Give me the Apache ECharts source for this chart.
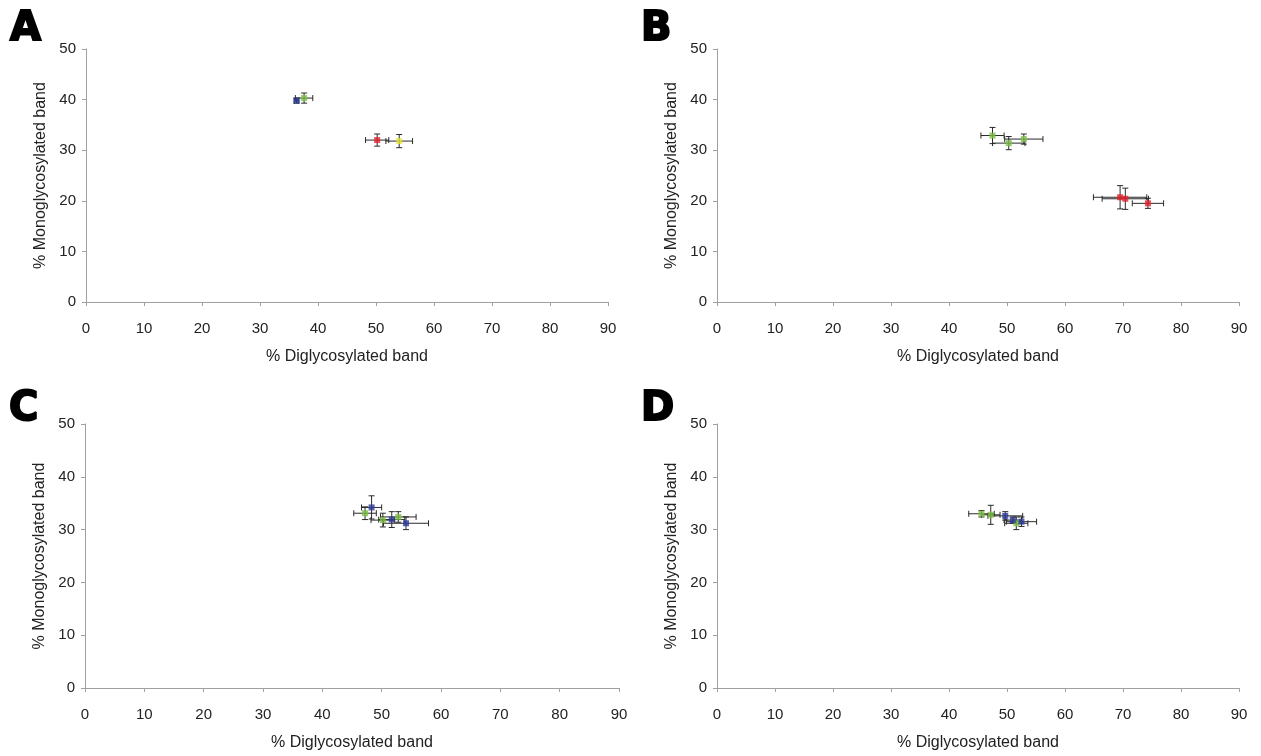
<!DOCTYPE html>
<html><head><meta charset="utf-8">
<script src="https://cdn.jsdelivr.net/npm/echarts@6/dist/echarts.min.js"></script>
<style>html,body{margin:0;padding:0;background:#fff}#c{width:1261px;height:756px}</style>
</head><body><div id="c"></div>
<script>
// Each point: [x (% diglycosylated), y (% monoglycosylated), x error, y error]
const panelA_blue   = [[36.3, 39.8, 0.4, 0.5]];
const panelA_green  = [[37.6, 40.3, 1.5, 1.0]];
const panelA_red    = [[50.2, 32.0, 2.0, 1.2]];
const panelA_yellow = [[54.0, 31.8, 2.3, 1.3]];

const panelB_green  = [[47.5, 32.9, 2.0, 1.6], [50.3, 31.4, 2.8, 1.3], [52.9, 32.2, 3.3, 1.0]];
const panelB_red    = [[69.5, 20.7, 4.6, 2.3], [70.4, 20.4, 4.0, 2.1], [74.3, 19.5, 2.7, 1.0]];

const panelC_green  = [[47.2, 33.1, 1.9, 1.2], [50.2, 31.8, 2.0, 1.3], [52.8, 32.4, 3.0, 1.0]];
const panelC_blue   = [[48.3, 34.2, 1.7, 2.2], [51.7, 31.9, 2.2, 1.5], [54.1, 31.2, 3.8, 1.2]];

const panelD_green  = [[45.6, 33.0, 2.2, 0.6], [47.2, 32.8, 1.6, 1.8], [51.6, 31.2, 2.0, 1.2]];
const panelD_blue   = [[49.7, 32.6, 3.0, 0.8], [52.5, 31.5, 2.6, 0.9], [51.0, 31.8, 1.5, 0.6]];

const xTicks = [0, 10, 20, 30, 40, 50, 60, 70, 80, 90];
const yTicks = [0, 10, 20, 30, 40, 50];
const xTitle = '% Diglycosylated band';
const yTitle = '% Monoglycosylated band';
const panelLetters = ['A', 'B', 'C', 'D'];

const COLORS = {blue: '#2b3a9a', green: '#7cbf45', red: '#e3232a', yellow: '#e6e23a'};

const panels = [
  {letter: panelLetters[0], grid: {left: 86, right: 653, top: 49, bottom: 454}, series: [['blue', panelA_blue], ['green', panelA_green], ['red', panelA_red], ['yellow', panelA_yellow]], lx: 9, ly: 9},
  {letter: panelLetters[1], grid: {left: 717, right: 22, top: 49, bottom: 454}, series: [['green', panelB_green], ['red', panelB_red]], lx: 640, ly: 9},
  {letter: panelLetters[2], grid: {left: 85, right: 642, top: 424, bottom: 68}, series: [['green', panelC_green], ['blue', panelC_blue]], lx: 8, ly: 389},
  {letter: panelLetters[3], grid: {left: 717, right: 22, top: 424, bottom: 68}, series: [['green', panelD_green], ['blue', panelD_blue]], lx: 640, ly: 389}
];

const FONT = 'Liberation Sans, Arial, sans-serif';
const axisCommon = {
  axisLine: {show: true, lineStyle: {color: '#a0a0a0', width: 1}},
  axisTick: {show: true, length: 4, lineStyle: {color: '#a0a0a0'}},
  splitLine: {show: false},
  nameTextStyle: {color: '#222', fontSize: 16, fontFamily: FONT},
  nameLocation: 'middle'
};

function errRender(params, api) {
  const x = api.value(0), y = api.value(1), xe = api.value(2), ye = api.value(3);
  const c = api.coord([x, y]);
  const l = api.coord([x - xe, y]), r = api.coord([x + xe, y]);
  const t = api.coord([x, y + ye]), b = api.coord([x, y - ye]);
  const st = {stroke: '#2a2a2a', lineWidth: 1};
  const cap = 3;
  return {type: 'group', children: [
    {type: 'line', shape: {x1: l[0], y1: c[1], x2: r[0], y2: c[1]}, style: st},
    {type: 'line', shape: {x1: l[0], y1: c[1] - cap, x2: l[0], y2: c[1] + cap}, style: st},
    {type: 'line', shape: {x1: r[0], y1: c[1] - cap, x2: r[0], y2: c[1] + cap}, style: st},
    {type: 'line', shape: {x1: c[0], y1: t[1], x2: c[0], y2: b[1]}, style: st},
    {type: 'line', shape: {x1: c[0] - cap, y1: t[1], x2: c[0] + cap, y2: t[1]}, style: st},
    {type: 'line', shape: {x1: c[0] - cap, y1: b[1], x2: c[0] + cap, y2: b[1]}, style: st}
  ]};
}

const option = {animation: false, grid: [], xAxis: [], yAxis: [], series: [], graphic: []};
panels.forEach((p, i) => {
  option.grid.push(Object.assign({containLabel: false}, p.grid));
  option.xAxis.push(Object.assign({}, axisCommon, {
    type: 'value', gridIndex: i, min: xTicks[0], max: xTicks[xTicks.length - 1], interval: 10,
    name: xTitle, nameGap: 47,
    axisLabel: {color: '#222', fontSize: 15, fontFamily: FONT, margin: 19}
  }));
  option.yAxis.push(Object.assign({}, axisCommon, {
    type: 'value', gridIndex: i, min: yTicks[0], max: yTicks[yTicks.length - 1], interval: 10,
    name: yTitle, nameGap: 37,
    axisLabel: {color: '#222', fontSize: 15, fontFamily: FONT, margin: 10}
  }));
  p.series.forEach(([col, pts]) => {
    option.series.push({type: 'custom', xAxisIndex: i, yAxisIndex: i, data: pts, renderItem: errRender, z: 2, clip: false});
  });
  p.series.forEach(([col, pts]) => {
    option.series.push({type: 'scatter', xAxisIndex: i, yAxisIndex: i, data: pts.map(d => [d[0], d[1]]),
      symbol: 'rect', symbolSize: 6, itemStyle: {color: COLORS[col]}, z: 3});
  });
  option.graphic.push({type: 'text', left: p.lx, top: p.ly, z: 10,
    style: {text: p.letter, fontSize: 40, fontWeight: 900, fontFamily: 'DejaVu Sans, sans-serif',
      fill: '#000', stroke: '#000', lineWidth: 2}});
});

const chart = echarts.init(document.getElementById('c'), null, {renderer: 'canvas'});
chart.setOption(option);
</script></body></html>
